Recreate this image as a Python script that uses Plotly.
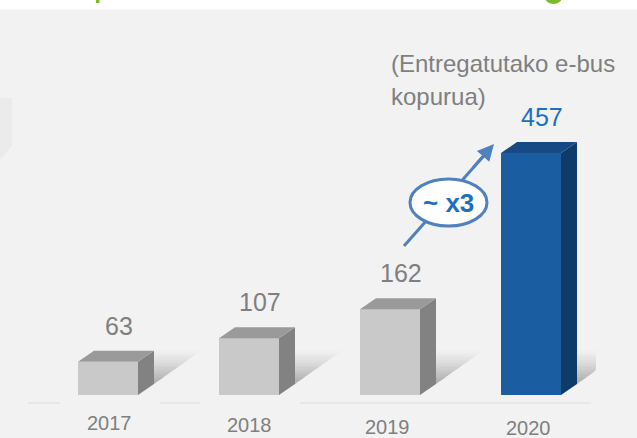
import plotly.graph_objects as go

# ---------------- data ----------------
years = ["2017", "2018", "2019", "2020"]
ebus_delivered = [63, 107, 162, 457]
subtitle_lines = ["(Entregatutako e-bus", "kopurua)"]
growth_label = "~ x3"

# ---------------- geometry / style ----------------
W, H = 637, 438
PX_PER_X = 141.0          # pixels between category centres
X0_PX = 108.0             # pixel of first category centre
PX_PER_Y = 0.5295         # pixels per unit
BASE_PX = 395.0           # pixel row of the zero line

xr = [-X0_PX / PX_PER_X, (W - X0_PX) / PX_PER_X]
yr = [-(H - BASE_PX) / PX_PER_Y, BASE_PX / PX_PER_Y]

def dx(px):
    return px / PX_PER_X

def dy(px):
    return px / PX_PER_Y

BAR_W = dx(60)
DEPTH_X = dx(16)
DEPTH_Y = dy(11)

front_cols = ["#c8c9c8", "#c8c9c8", "#c8c9c8", "#1a5da0"]
side_cols = ["#828282", "#828282", "#828282", "#0f3b69"]
top_cols = ["#9a9a9a", "#9a9a9a", "#9a9a9a", "#174a84"]
label_cols = ["#7f7f7f", "#7f7f7f", "#7f7f7f", "#1a6fc4"]

BG = "#f2f2f2"
GRAY_TXT = "#7f7f7f"
REG = "Liberation Sans, Arial"

fig = go.Figure()

xs = list(range(len(years)))

# ---- shadows (fake gradient with bands) ----
SH_W = dx(48)
SH_H = dy(34)
XMAX = dx(596) + xr[0]
N = 14
for k in range(N):
    px_, py_ = [], []
    h0, h1 = SH_H * k / N, SH_H * (k + 1) / N
    for i, v in enumerate(ebus_delivered):
        sx = i + BAR_W / 2 + DEPTH_X
        sy = DEPTH_Y
        x0a = sx + SH_W * h0 / SH_H
        x1a = sx + SH_W * h1 / SH_H
        x0a, x1a = min(x0a, XMAX), min(x1a, XMAX)
        px_ += [sx, x0a, x1a, sx, sx, None]
        py_ += [sy + h0, sy + h0, sy + h1, sy + h1, sy + h0, None]
    a = 0.40 * (1 - (k + 0.5) / N) ** 1.2
    fig.add_trace(go.Scatter(x=px_, y=py_, mode="lines", fill="toself",
                             fillcolor=f"rgba(60,60,60,{a:.3f})",
                             line=dict(width=0), hoverinfo="skip",
                             showlegend=False))

# ---- front faces ----
fig.add_trace(go.Bar(x=xs, y=ebus_delivered, width=BAR_W,
                     marker=dict(color=front_cols, line=dict(width=0)),
                     showlegend=False, hoverinfo="skip"))

# ---- side and top faces ----
for i, v in enumerate(ebus_delivered):
    xl, xrt = i - BAR_W / 2, i + BAR_W / 2
    fig.add_trace(go.Scatter(
        x=[xrt, xrt + DEPTH_X, xrt + DEPTH_X, xrt, xrt],
        y=[0, DEPTH_Y, v + DEPTH_Y, v, 0],
        mode="lines", fill="toself", fillcolor=side_cols[i],
        line=dict(width=0), hoverinfo="skip", showlegend=False))
    fig.add_trace(go.Scatter(
        x=[xl, xl + DEPTH_X, xrt + DEPTH_X, xrt, xl],
        y=[v, v + DEPTH_Y, v + DEPTH_Y, v, v],
        mode="lines", fill="toself", fillcolor=top_cols[i],
        line=dict(width=0), hoverinfo="skip", showlegend=False))

# ---- value labels ----
for i, v in enumerate(ebus_delivered):
    fig.add_annotation(x=i, y=v, xref="x", yref="y", text=str(v),
                       showarrow=False, xshift=11, yshift=36,
                       xanchor="center", yanchor="middle",
                       font=dict(family=REG, size=25, color=label_cols[i]))

# ---- year labels (slightly staggered as in the original) ----
year_xshift = [1.5, 0, -3, -3]
year_yshift = [-27.5, -30, -32, -33]
for i, yl in enumerate(years):
    fig.add_annotation(x=i, y=0, xref="x", yref="y", text=yl,
                       showarrow=False, xshift=year_xshift[i],
                       yshift=year_yshift[i], xanchor="center",
                       yanchor="middle", borderpad=0,
                       font=dict(family=REG, size=20, color=GRAY_TXT))

def pxx(p):
    return p / W

def pxy(p):
    return 1 - p / H

# ---- subtitle ----
for line, yc in zip(subtitle_lines, [63.5, 96]):
    fig.add_annotation(x=pxx(389), y=pxy(yc), xref="paper", yref="paper",
                       text=line, showarrow=False, xanchor="left",
                       yanchor="middle",
                       font=dict(family=REG, size=24, color=GRAY_TXT))

shapes = []
# white strip at top with green fragments of cropped title
shapes.append(dict(type="rect", xref="paper", yref="paper",
                   x0=0, x1=1, y0=pxy(9.5), y1=1.02,
                   fillcolor="white", line=dict(width=0), layer="above"))
shapes.append(dict(type="rect", xref="paper", yref="paper",
                   x0=pxx(96), x1=pxx(99.5), y0=pxy(3), y1=1.02,
                   fillcolor="#7dba2a", line=dict(width=0), layer="above"))
shapes.append(dict(type="circle", xref="paper", yref="paper",
                   x0=pxx(545), x1=pxx(562), y0=pxy(4), y1=pxy(-10),
                   fillcolor="#7dba2a", line=dict(width=0), layer="above"))
# faint block on the left edge
shapes.append(dict(type="path", xref="paper", yref="paper",
                   path=f"M 0 {pxy(98)} L {pxx(12)} {pxy(98)} L {pxx(12)} {pxy(146)} L 0 {pxy(160)} Z",
                   fillcolor="#ebebeb", line=dict(width=0), layer="below"))
# faint floor lines
for a_, b_ in [(28, 60), (160, 200), (300, 591)]:
    shapes.append(dict(type="line", xref="paper", yref="paper",
                       x0=pxx(a_), x1=pxx(b_), y0=pxy(403), y1=pxy(403),
                       line=dict(color="#e7e7e7", width=2), layer="below"))
# arrow shaft
shapes.append(dict(type="line", xref="paper", yref="paper",
                   x0=pxx(404), y0=pxy(246), x1=pxx(488), y1=pxy(151),
                   line=dict(color="#4f81bd", width=3), layer="above"))
# ellipse
shapes.append(dict(type="circle", xref="paper", yref="paper",
                   x0=pxx(410), x1=pxx(487), y0=pxy(226), y1=pxy(179),
                   fillcolor="white", line=dict(color="#4f81bd", width=3),
                   layer="above"))
fig.update_layout(shapes=shapes)

# arrow head
fig.add_annotation(x=pxx(494), y=pxy(144), xref="paper", yref="paper",
                   ax=-22, ay=25, text="", showarrow=True, arrowhead=2,
                   arrowsize=1.1, arrowwidth=3, arrowcolor="#4f81bd")
fig.add_annotation(x=pxx(448), y=pxy(203), xref="paper", yref="paper",
                   text=f"<b>{growth_label}</b>", showarrow=False,
                   xanchor="center", yanchor="middle",
                   font=dict(family=REG, size=26, color="#1f6fbf"))

fig.update_layout(
    width=W, height=H, autosize=False,
    margin=dict(l=0, r=0, t=0, b=0),
    paper_bgcolor=BG, plot_bgcolor=BG,
    xaxis=dict(range=xr, visible=False, fixedrange=True),
    yaxis=dict(range=yr, visible=False, fixedrange=True),
    showlegend=False, bargap=0,
)

fig.write_html(
    "out.html",
    config={"displayModeBar": False},
    post_script="document.body.style.margin='0';document.body.style.padding='0';"
                "document.body.style.background='#f2f2f2';"
                "document.documentElement.style.overflow='hidden';",
)
